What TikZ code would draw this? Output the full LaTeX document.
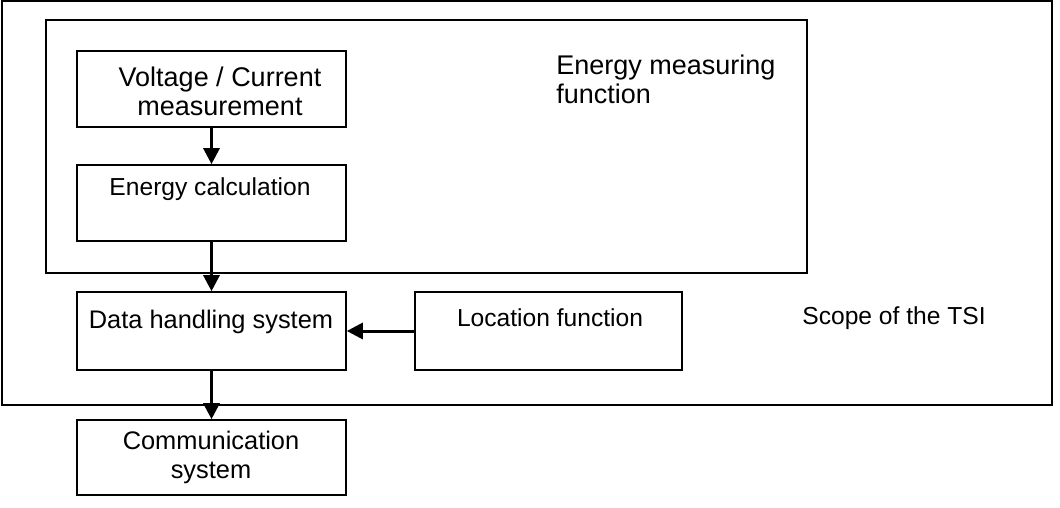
\documentclass[tikz,border=0pt]{standalone}
\usepackage{fontspec}
\setmainfont{Liberation Sans}
\usetikzlibrary{arrows.meta,fit}
\begin{document}
\begin{tikzpicture}[x=0.5pt,y=-0.5pt,
  frame/.style={draw, line width=0.8pt},
  box/.style={draw, line width=0.8pt, inner sep=0pt},
  arr/.style={line width=1.5pt, -{Triangle[width=8pt,length=8pt]}},
  txt/.style={inner sep=0pt, align=center, font=\fontsize{12.7}{14.5}\selectfont},
  big/.style={font=\fontsize{13.5}{14.5}\selectfont},
  small/.style={font=\fontsize{12.3}{14.5}\selectfont}]
\useasboundingbox (0,0) rectangle (1060,508);
% scope frames
\node (tsi) [frame, inner sep=0pt, fit={(2,1) (1052,405)}] {};
\node (emf) [frame, inner sep=0pt, fit={(46,20) (807,273)}] {};
% boxes
\node (vc)   [box, fit={(77,51) (346,127)}] {};
\node (ec)   [box, fit={(77,165) (346,241)}] {};
\node (dh)   [box, fit={(77,292) (346,370)}] {};
\node (loc)  [box, fit={(415,292) (682,370)}] {};
\node (comm) [box, fit={(77,420) (346,495)}] {};
% texts
\node (vct) [txt, big] at (220,91) {Voltage / Current\\measurement};
\node (ect) [txt, small] at (210,189) {Energy calculation};
\node (dht) [txt] at (211,322) {Data handling system};
\node (lct) [txt, small] at (550,318) {Location function};
\node (cmt) [txt] at (211,457) {Communication\\system};
\node (emt) [txt, big, anchor=west, align=left] at (556,79) {Energy measuring\\function};
\node (tst) [txt, small, anchor=west] at (802,318) {Scope of the TSI};
% connectors
\draw[arr] (vc) -- (ec);
\draw[arr] (ec) -- (dh);
\draw[arr] (loc) -- (dh);
\draw[arr] (dh) -- (comm);
\end{tikzpicture}
\end{document}
